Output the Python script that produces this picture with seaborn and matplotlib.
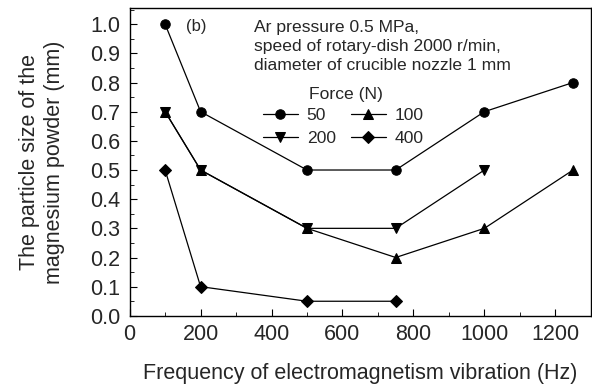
import pandas as pd
import numpy as np
import matplotlib
matplotlib.use('Agg')
import matplotlib.pyplot as plt
import seaborn as sns
from matplotlib.ticker import MultipleLocator

# data
freq_50 = [100, 200, 500, 750, 1000, 1250]
size_50 = [1.0, 0.7, 0.5, 0.5, 0.7, 0.8]
freq_100 = [100, 200, 500, 750, 1000, 1250]
size_100 = [0.7, 0.5, 0.3, 0.2, 0.3, 0.5]
freq_200 = [100, 200, 500, 750, 1000]
size_200 = [0.7, 0.5, 0.3, 0.3, 0.5]
freq_400 = [100, 200, 500, 750]
size_400 = [0.5, 0.1, 0.05, 0.05]

forces = ['50', '100', '200', '400']
markers = {'50': 'o', '100': '^', '200': 'v', '400': 'D'}
msizes = {'50': 6.8, '100': 7.5, '200': 7.5, '400': 6.0}

df = pd.concat([
    pd.DataFrame({'freq': freq_50, 'size': size_50, 'force': '50'}),
    pd.DataFrame({'freq': freq_100, 'size': size_100, 'force': '100'}),
    pd.DataFrame({'freq': freq_200, 'size': size_200, 'force': '200'}),
    pd.DataFrame({'freq': freq_400, 'size': size_400, 'force': '400'}),
])

sns.set_style('ticks')
plt.rcParams['font.family'] = ['Liberation Sans', 'DejaVu Sans']

fig, ax = plt.subplots(figsize=(5.92, 3.88), dpi=100)
fig.subplots_adjust(left=0.219, right=0.998, bottom=0.186, top=0.979)

for f in forces:
    sub = df[df['force'] == f]
    sns.lineplot(data=sub, x='freq', y='size', color='black', lw=0.9,
                 marker=markers[f], markersize=msizes[f],
                 markeredgecolor='black', ax=ax, label=f)

ax.set_xlim(0, 1300)
ax.set_ylim(0, 1.055)
ax.xaxis.set_major_locator(MultipleLocator(200))
ax.xaxis.set_minor_locator(MultipleLocator(100))
ax.yaxis.set_major_locator(MultipleLocator(0.1))
ax.yaxis.set_minor_locator(MultipleLocator(0.05))
ax.yaxis.set_major_formatter(matplotlib.ticker.FormatStrFormatter('%.1f'))
ax.tick_params(which='both', direction='in', labelsize=15.5, color='black')
ax.tick_params(which='major', length=5)
ax.tick_params(which='minor', length=3)
ax.tick_params(axis='x', which='major', pad=6)
ax.tick_params(axis='y', which='major', pad=7)
for s in ax.spines.values():
    s.set_color('black')
    s.set_linewidth(1)

ax.set_xlabel('Frequency of electromagnetism vibration (Hz)', fontsize=15.5, labelpad=13)
ax.set_ylabel('The particle size of the\nmagnesium powder (mm)', fontsize=15.5, labelpad=18)

ax.text(159, 0.976, '(b)', fontsize=12, va='baseline')
ax.text(350, 0.842, 'Ar pressure 0.5 MPa,\nspeed of rotary-dish 2000 r/min,\ndiameter of crucible nozzle 1 mm',
        fontsize=12.6, va='baseline', linespacing=1.33)
ax.text(611, 0.743, 'Force (N)', fontsize=12.6, ha='center', va='baseline')

h, l = ax.get_legend_handles_labels()
order = [0, 2, 1, 3]
ax.legend([h[i] for i in order], [l[i] for i in order], ncol=2,
          frameon=False, fontsize=12.6, loc='center left',
          bbox_to_anchor=(0.289, 0.615), handlelength=2.0, handletextpad=0.5,
          columnspacing=0.85, labelspacing=0.45, borderpad=0, borderaxespad=0)

fig.savefig('out.png', dpi=100)
